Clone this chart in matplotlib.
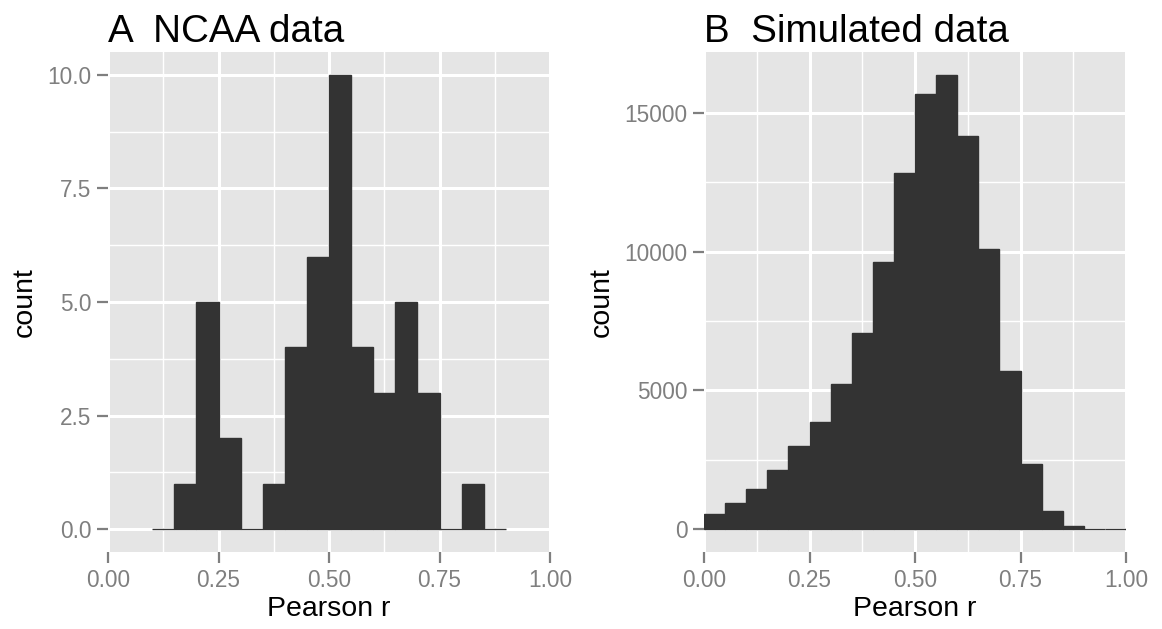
import numpy as np
import matplotlib
matplotlib.use('Agg')
import matplotlib.pyplot as plt

plt.rcParams['font.family'] = ['Liberation Sans', 'DejaVu Sans']

# histogram data, bin width 0.05
ncaa_edges = [0.10, 0.15, 0.20, 0.25, 0.30, 0.35, 0.40, 0.45, 0.50,
              0.55, 0.60, 0.65, 0.70, 0.75, 0.80, 0.85, 0.90]
ncaa_counts = [0, 1, 5, 2, 0, 1, 4, 6, 10, 4, 3, 5, 3, 0, 1, 0]

sim_edges = [0.00, 0.05, 0.10, 0.15, 0.20, 0.25, 0.30, 0.35, 0.40, 0.45, 0.50,
             0.55, 0.60, 0.65, 0.70, 0.75, 0.80, 0.85, 0.90, 0.95, 1.00]
sim_counts = [540, 935, 1440, 2120, 2985, 3850, 5215, 7075, 9640, 12815,
              15685, 16370, 14150, 10110, 5685, 2350, 645, 100, 15, 2]

x_ticks = [0.00, 0.25, 0.50, 0.75, 1.00]
x_ticklabels = ['0.00', '0.25', '0.50', '0.75', '1.00']
ncaa_yticks = [0.0, 2.5, 5.0, 7.5, 10.0]
ncaa_yticklabels = ['0.0', '2.5', '5.0', '7.5', '10.0']
sim_yticks = [0, 5000, 10000, 15000]
sim_yticklabels = ['0', '5000', '10000', '15000']

bg = '#E5E5E5'
bar_col = '#333333'
grey = '#7F7F7F'

fig = plt.figure(figsize=(11.62, 6.29), dpi=100)
ax1 = fig.add_axes([108/1162, 1-552/629, 442/1162, 500/629])
ax2 = fig.add_axes([704/1162, 1-552/629, 422/1162, 500/629])


def style(ax, edges, counts, yticks, yticklabels, ylim, title):
    ax.set_facecolor(bg)
    for s in ax.spines.values():
        s.set_visible(False)
    ax.set_xticks(x_ticks)
    ax.set_xticklabels(x_ticklabels)
    ax.set_yticks(yticks)
    ax.set_yticklabels(yticklabels)
    # minor gridlines halfway between majors
    ax.set_xticks([0.125, 0.375, 0.625, 0.875], minor=True)
    ystep = yticks[1] - yticks[0]
    minor_y = [t + ystep / 2 for t in yticks if t + ystep / 2 < ylim[1]]
    ax.set_yticks(minor_y, minor=True)
    ax.grid(which='major', color='white', linewidth=2.2)
    ax.grid(which='minor', color='white', linewidth=1.0)
    ax.set_axisbelow(True)
    ax.tick_params(which='minor', length=0)
    ax.tick_params(which='major', length=8, width=1.6, color=grey,
                   labelcolor=grey, labelsize=16.3, pad=4)
    ax.bar(edges[:-1], counts, width=0.05, align='edge',
           color=bar_col, edgecolor=bar_col, linewidth=1.0)
    ax.set_xlim(0, 1)
    ax.set_ylim(*ylim)
    ax.set_xlabel('Pearson r', fontsize=20.5, labelpad=3)
    ax.set_ylabel('count', fontsize=20.5, labelpad=7)
    ax.set_title(title, loc='left', fontsize=27.8, pad=7)


style(ax1, ncaa_edges, ncaa_counts, ncaa_yticks, ncaa_yticklabels,
      (-0.5, 10.5), 'A  NCAA data')
style(ax2, sim_edges, sim_counts, sim_yticks, sim_yticklabels,
      (-820, 17190), 'B  Simulated data')

fig.savefig('out.png', dpi=100)
